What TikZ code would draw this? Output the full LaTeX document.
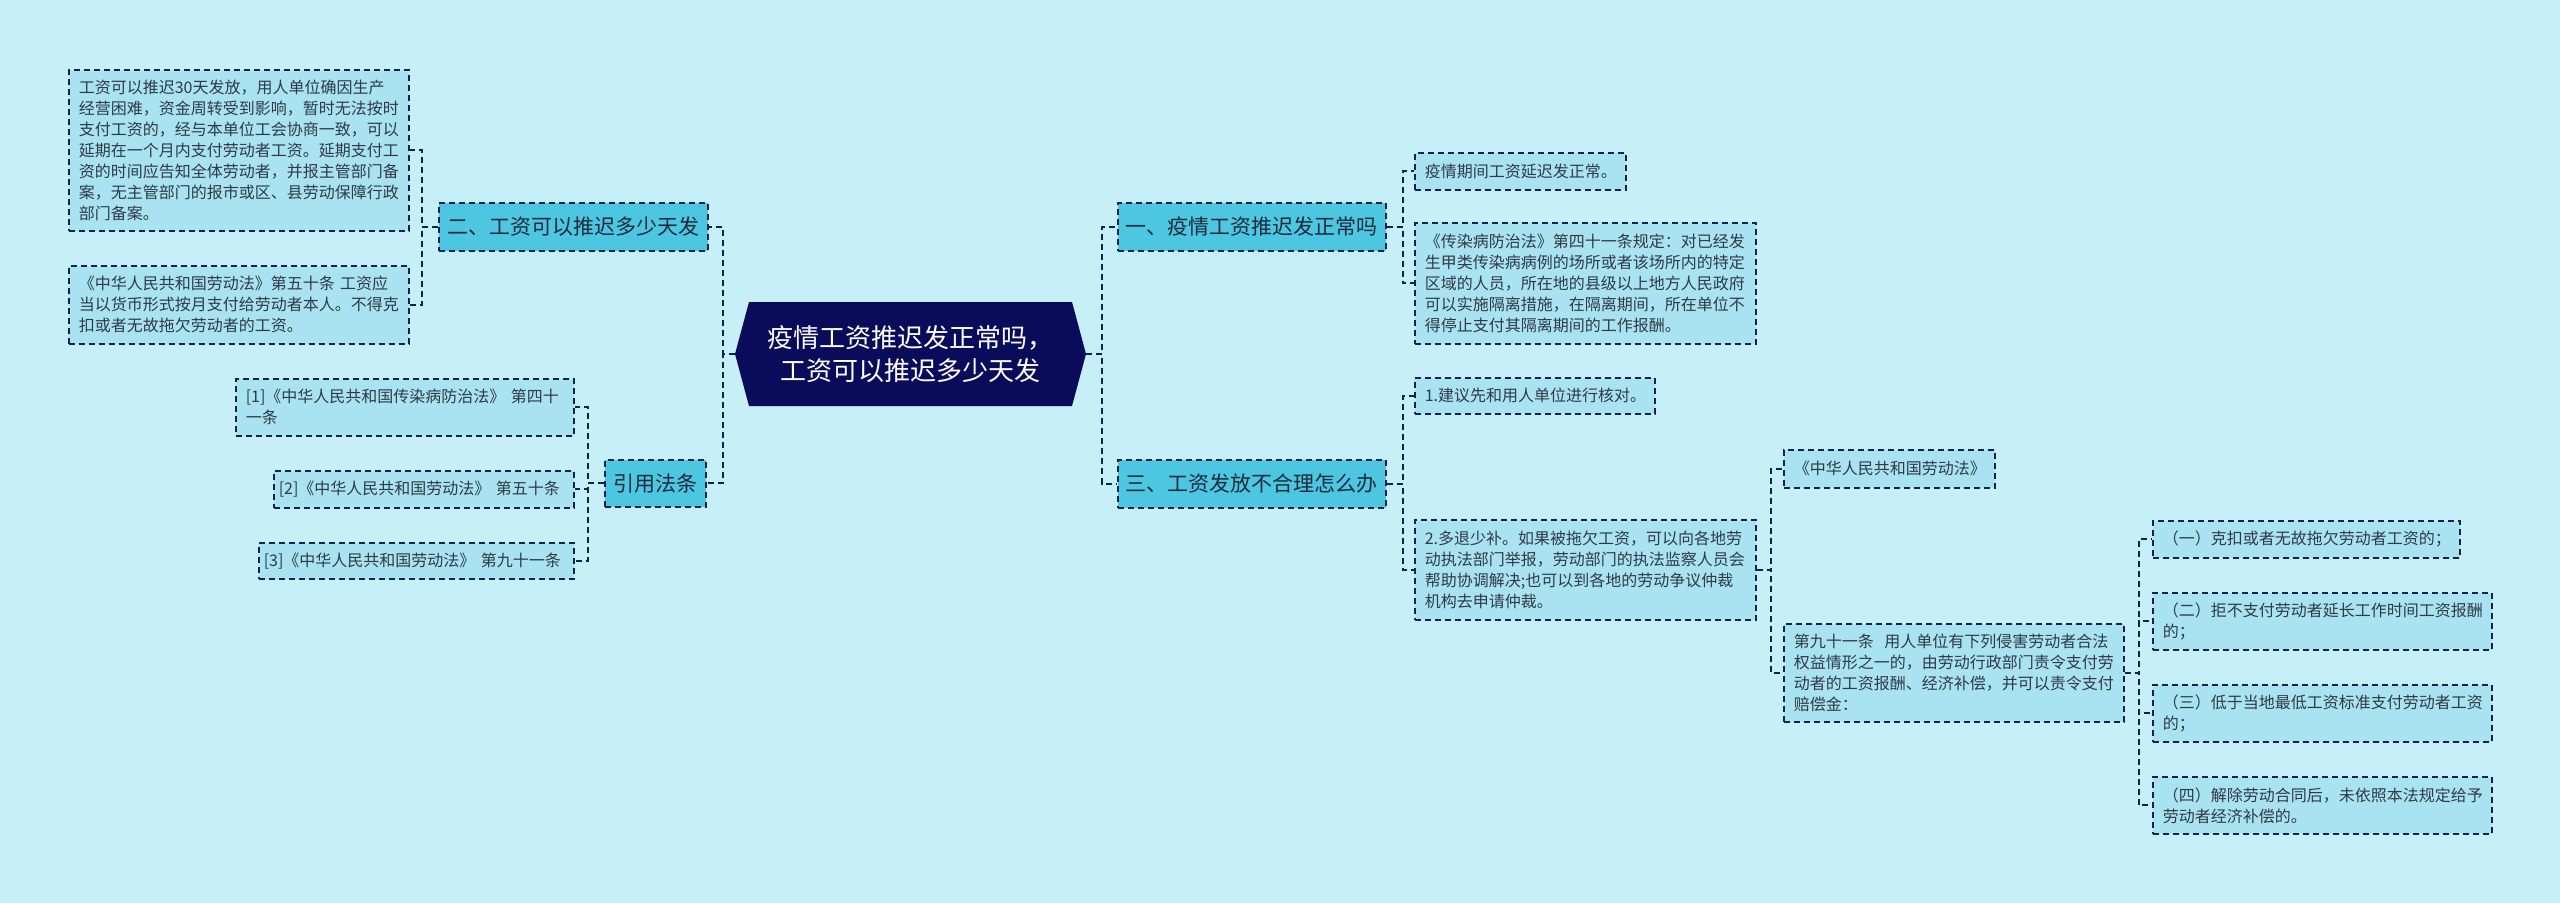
\documentclass[tikz,border=0pt]{standalone}
\usepackage{fontspec}
\setmainfont{Noto Sans CJK SC}
\definecolor{bg}{HTML}{C7EFF7}
\definecolor{navy}{HTML}{0B0B5C}
\definecolor{linecol}{HTML}{13214F}
\definecolor{topicfill}{HTML}{4CC6E1}
\definecolor{leaffill}{HTML}{A9E3F2}
\definecolor{leaftext}{HTML}{2E3A44}
\definecolor{topictext}{HTML}{1C2B3C}
\begin{document}
\begin{tikzpicture}[x=1pt,y=-1pt,
  box/.style={draw=linecol, line width=1.6pt, dash pattern=on 6pt off 4pt},
  leaf/.style={box, fill=leaffill, anchor=north west, align=left, inner xsep=10pt, inner ysep=0pt, font=\fontsize{16}{21}\selectfont, text=leaftext},
  topic/.style={box, fill=topicfill, anchor=north west, align=center, inner sep=0pt, font=\fontsize{21}{26}\selectfont, text=topictext},
  conn/.style={draw=linecol, line width=1.8pt, dash pattern=on 6pt off 4pt}]
\useasboundingbox (0,0) rectangle (2560,903);
\fill[bg] (0,0) rectangle (2560,903);

% centre
\fill[navy] (735,354) -- (749,302) -- (1072,302) -- (1086,354) -- (1072,406) -- (749,406) -- cycle;
\node[font=\fontsize{26}{33}\selectfont, text=white, align=center, minimum width=351pt, minimum height=104pt, inner sep=0pt] (c) at (910.5,354) {疫情工资推迟发正常吗，\\工资可以推迟多少天发};

% topics
\node[topic, minimum width=269pt, minimum height=48pt] (t2) at (438,202) {二、工资可以推迟多少天发};
\node[topic, minimum width=101pt, minimum height=47pt] (ref) at (604,459) {引用法条};
\node[topic, minimum width=268pt, minimum height=48pt] (t1) at (1117,202) {一、疫情工资推迟发正常吗};
\node[topic, minimum width=268pt, minimum height=48pt] (t3) at (1117,459) {三、工资发放不合理怎么办};

% left leaves
\node[leaf, text width=320pt, minimum height=161pt] (l1) at (68,69) {工资可以推迟30天发放，用人单位确因生产\\经营困难，资金周转受到影响，暂时无法按时\\支付工资的，经与本单位工会协商一致，可以\\延期在一个月内支付劳动者工资。延期支付工\\资的时间应告知全体劳动者，并报主管部门备\\案，无主管部门的报市或区、县劳动保障行政\\部门备案。};
\node[leaf, text width=320pt, minimum height=78pt] (l2) at (68,265) {《中华人民共和国劳动法》第五十条 工资应\\当以货币形式按月支付给劳动者本人。不得克\\扣或者无故拖欠劳动者的工资。};

\node[leaf, text width=318pt, minimum height=57pt] (f1) at (235,378) {[1]《中华人民共和国传染病防治法》 第四十\\一条};
\node[leaf, inner xsep=5pt, text width=290pt, minimum height=37pt] (f2) at (273,470) {\mbox{[2]《中华人民共和国劳动法》 第五十条}};
\node[leaf, inner xsep=5pt, text width=305pt, minimum height=36pt] (f3) at (258,542) {\mbox{[3]《中华人民共和国劳动法》 第九十一条}};

% right leaves
\node[leaf, text width=191pt, minimum height=37pt] (r1) at (1414,152) {疫情期间工资延迟发正常。};
\node[leaf, text width=321pt, minimum height=121pt] (r2) at (1414,222) {《传染病防治法》第四十一条规定：对已经发\\生甲类传染病病例的场所或者该场所内的特定\\区域的人员，所在地的县级以上地方人民政府\\可以实施隔离措施，在隔离期间，所在单位不\\得停止支付其隔离期间的工作报酬。};
\node[leaf, text width=220pt, minimum height=36pt] (r3) at (1414,377) {1.建议先和用人单位进行核对。};
\node[leaf, text width=321pt, minimum height=100pt] (r4) at (1414,519) {2.多退少补。如果被拖欠工资，可以向各地劳\\动执法部门举报，劳动部门的执法监察人员会\\帮助协调解决;也可以到各地的劳动争议仲裁\\机构去申请仲裁。};

\node[leaf, text width=191pt, minimum height=38pt] (s1) at (1783,449) {《中华人民共和国劳动法》};
\node[leaf, text width=320pt, minimum height=98pt] (s2) at (1783,623) {第九十一条 \ 用人单位有下列侵害劳动者合法\\权益情形之一的，由劳动行政部门责令支付劳\\动者的工资报酬、经济补偿，并可以责令支付\\赔偿金：};

\node[leaf, text width=287pt, minimum height=37pt] (u1) at (2152,520) {（一）克扣或者无故拖欠劳动者工资的；};
\node[leaf, text width=319pt, minimum height=57pt] (u2) at (2152,592) {（二）拒不支付劳动者延长工作时间工资报酬\\的；};
\node[leaf, text width=319pt, minimum height=57pt] (u3) at (2152,684) {（三）低于当地最低工资标准支付劳动者工资\\的；};
\node[leaf, text width=319pt, minimum height=57pt] (u4) at (2152,776) {（四）解除劳动合同后，未依照本法规定给予\\劳动者经济补偿的。};

% connectors
\draw[conn] (c.west) -- ++(-12,0) |- (t2.east);
\draw[conn] (c.west) -- ++(-12,0) |- (ref.east);
\draw[conn] (c.east) -- ++(16,0) |- (t1.west);
\draw[conn] (c.east) -- ++(16,0) |- (t3.west);
\draw[conn] (t2.west) -- ++(-16,0) |- (l1.east);
\draw[conn] (t2.west) -- ++(-16,0) |- (l2.east);
\draw[conn] (ref.west) -- ++(-16,0) |- (f1.east);
\draw[conn] (ref.west) -- ++(-16,0) |- (f2.east);
\draw[conn] (ref.west) -- ++(-16,0) |- (f3.east);
\draw[conn] (t1.east) -- ++(16,0) |- (r1.west);
\draw[conn] (t1.east) -- ++(16,0) |- (r2.west);
\draw[conn] (t3.east) -- ++(16,0) |- (r3.west);
\draw[conn] (t3.east) -- ++(16,0) |- (r4.west);
\draw[conn] (r4.east) -- ++(14,0) |- (s1.west);
\draw[conn] (r4.east) -- ++(14,0) |- (s2.west);
\draw[conn] (s2.east) -- ++(14,0) |- (u1.west);
\draw[conn] (s2.east) -- ++(14,0) |- (u2.west);
\draw[conn] (s2.east) -- ++(14,0) |- (u3.west);
\draw[conn] (s2.east) -- ++(14,0) |- (u4.west);
\end{tikzpicture}
\end{document}
